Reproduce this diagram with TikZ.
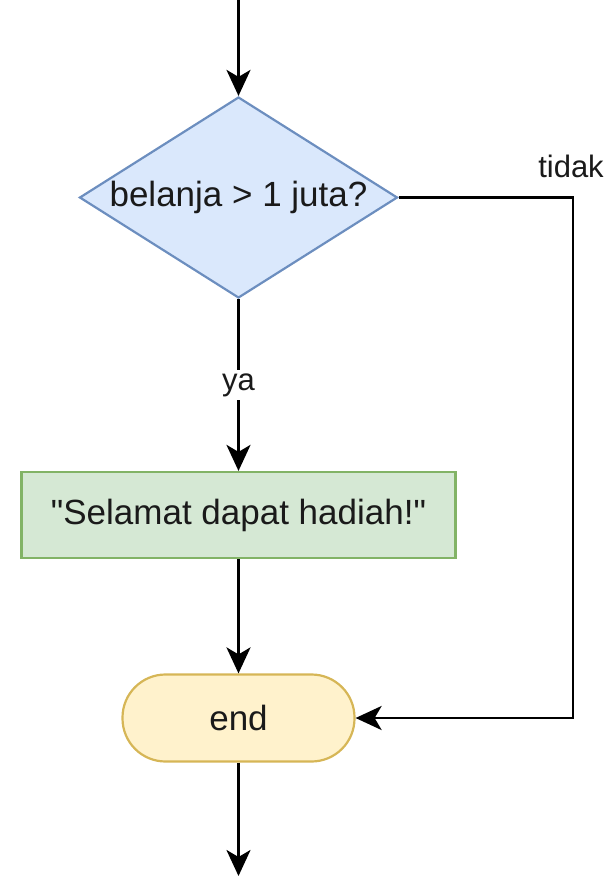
\documentclass[tikz,border=0pt]{standalone}
\usepackage{fontspec}
\setmainfont{Liberation Sans}[Ligatures=TeXOff]
\usetikzlibrary{shapes.geometric,arrows.meta}
\definecolor{decfill}{HTML}{DAE8FC}
\definecolor{decline}{HTML}{6C8EBF}
\definecolor{procfill}{HTML}{D5E8D4}
\definecolor{procline}{HTML}{82B366}
\definecolor{termfill}{HTML}{FFF2CC}
\definecolor{termline}{HTML}{D6B656}
\definecolor{txt}{HTML}{1A1A1A}
\tikzset{
  every node/.style={text=txt, font=\fontsize{35}{40}\selectfont},
  decision/.style={shape=diamond, draw=decline, fill=decfill, line width=2.2pt,
    inner sep=0pt, minimum width=318pt, minimum height=201pt, aspect=1.582},
  process/.style={rectangle, draw=procline, fill=procfill, line width=2.2pt,
    minimum width=434pt, minimum height=86pt, inner sep=0pt},
  terminal/.style={rectangle, rounded corners=43pt, draw=termline, fill=termfill,
    line width=2.2pt, minimum width=232pt, minimum height=87pt, inner sep=0pt},
  flow/.style={line width=2.8pt, draw=black,
    -{Stealth[length=26pt, width=24pt, inset=7pt]}},
  lbl/.style={fill=white, inner sep=3pt, font=\fontsize{31}{36}\selectfont}
}
\begin{document}
\begin{tikzpicture}[x=1pt, y=-1pt]
  \useasboundingbox (0,0) rectangle (611,876);

  % shapes
  \node[decision] (cond) at (238.5,197.5) {belanja > 1 juta?};
  \node[process] (msg) at (238.5,515) {"Selamat dapat hadiah!"};
  \node[terminal] (stop) at (238.5,718) {end};

  % loose ends and bend
  \coordinate (entry) at (238.5,0);
  \coordinate (exit) at (238.5,876);
  \coordinate (bend) at (573,197.5);

  % connectors
  \draw[flow] (entry) -- (cond.north);
  \draw[flow] (cond.south) -- node[lbl, pos=0.5] {ya} (msg.north);
  \draw[flow] (msg.south) -- (stop.north);
  \draw[flow] (stop.south) -- (exit);
  \draw[flow] (cond.east) -- (bend) |- (stop.east);

  \node[lbl, fill=none, anchor=base] (no) at (571,177) {tidak};
\end{tikzpicture}
\end{document}
